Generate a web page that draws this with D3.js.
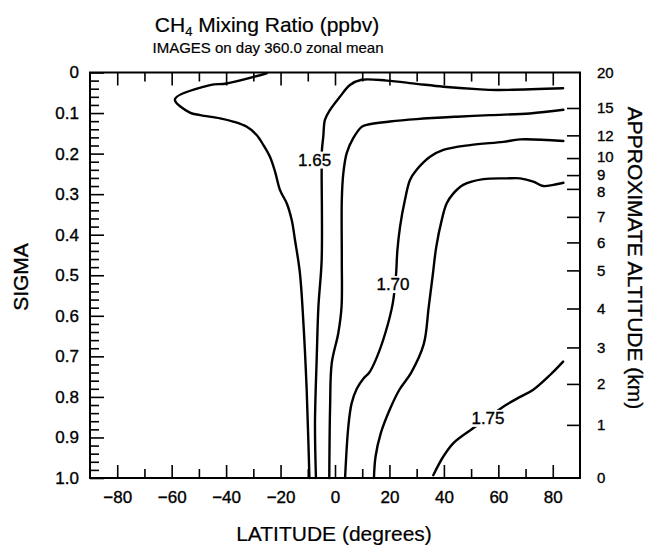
<!DOCTYPE html>
<html><head><meta charset="utf-8">
<script src="https://cdn.jsdelivr.net/npm/d3@7"></script>
<style>body{margin:0;background:#fff}svg{display:block}</style>
</head><body>
<svg id="chart" width="651" height="547"></svg>
<script>
// ---- tick labels ----
const latMajorTicks = [-80, -60, -40, -20, 0, 20, 40, 60, 80];
const latMinorTicks = [-70, -50, -30, -10, 10, 30, 50, 70];
const sigmaMajorTicks = [0, 0.1, 0.2, 0.3, 0.4, 0.5, 0.6, 0.7, 0.8, 0.9, 1.0];
const sigmaTickLabels = ["0", "0.1", "0.2", "0.3", "0.4", "0.5", "0.6", "0.7", "0.8", "0.9", "1.0"];
const altLabels = ["20", "15", "12", "10", "9", "8", "7", "6", "5", "4", "3", "2", "1", "0"];
const altSigma  = [0, 0.0875, 0.155, 0.211, 0.253, 0.287, 0.356, 0.419, 0.488, 0.582, 0.678, 0.768, 0.869, 1.0];

// ---- contour levels (ppmv) ----
const levels = [1.625, 1.65, 1.675, 1.70, 1.725, 1.75];

// contour 1.625
const c1Lat = [-25.1, -39.8, -45.9, -58.8, -53.3, -49.6, -42.2, -37.4, -32.4, -28.8, -26.3, -23.9, -22.0, -20.2, -17.7, -15.9, -14.7, -12.9, -11.6, -10.4, -9.8, -9.4];
const c1Sig = [0.002, 0.027, 0.031, 0.066, 0.099, 0.105, 0.113, 0.121, 0.134, 0.154, 0.179, 0.208, 0.245, 0.290, 0.323, 0.364, 0.413, 0.494, 0.618, 0.783, 0.906, 1.0];
// contour 1.65
const c2Lat = [83.8, 59.4, 52.1, 39.8, 30.0, 19.0, 9.8, 5.5, 1.8, -1.8, -3.7, -4.3, -4.8, -4.9, -4.9, -6.1, -6.7, -7.35, -7.0];
const c2Sig = [0.039, 0.043, 0.041, 0.035, 0.028, 0.020, 0.018, 0.031, 0.060, 0.092, 0.117, 0.158, 0.191, 0.240, 0.462, 0.578, 0.701, 0.864, 1.0];
// contour 1.675
const c3Lat = [83.9, 71.6, 56.9, 44.7, 30.0, 20.2, 11.65, 9.8, 6.7, 4.3, 3.05, 2.5, 2.5, 2.4, 1.2, -1.2, -1.8, -2.1];
const c3Sig = [0.092, 0.101, 0.105, 0.109, 0.115, 0.121, 0.129, 0.134, 0.162, 0.199, 0.249, 0.314, 0.462, 0.578, 0.643, 0.717, 0.824, 1.0];
// contour 1.70
const c4Lat = [83.9, 68.0, 61.8, 49.6, 39.8, 34.9, 30.0, 27.55, 25.7, 23.9, 22.9, 22.4, 21.2, 18.6, 15.2, 12.6, 10.4, 8.0, 6.1, 4.9, 3.7];
const c4Sig = [0.169, 0.165, 0.171, 0.179, 0.191, 0.208, 0.240, 0.265, 0.314, 0.380, 0.440, 0.500, 0.570, 0.640, 0.705, 0.740, 0.755, 0.780, 0.816, 0.873, 1.0];
// contour 1.725
const c5Lat = [83.9, 80.2, 76.5, 72.85, 68.0, 63.1, 54.5, 47.1, 43.5, 41.0, 39.2, 37.2, 35.9, 34.4, 32.6, 28.0, 23.6, 20.2, 16.8, 14.9, 14.3];
const c5Sig = [0.272, 0.277, 0.280, 0.269, 0.261, 0.261, 0.263, 0.277, 0.298, 0.323, 0.364, 0.430, 0.500, 0.580, 0.670, 0.740, 0.783, 0.830, 0.890, 0.947, 1.0];
// contour 1.75
const c6Lat = [36.1, 39.8, 43.5, 50.2, 56.2, 61.8, 68.0, 72.7, 79.0, 83.8];
const c6Sig = [0.993, 0.947, 0.914, 0.880, 0.852, 0.824, 0.800, 0.783, 0.746, 0.713];

const contourLat = [c1Lat, c2Lat, c3Lat, c4Lat, c5Lat, c6Lat];
const contourSig = [c1Sig, c2Sig, c3Sig, c4Sig, c5Sig, c6Sig];

// contour labels
const labelText = ["1.65", "1.70", "1.75"];
const labelLat  = [-7.5, 21.3, 56.2];
const labelSig  = [0.216, 0.523, 0.853];

// ---- layout ----
const FONT = "'Liberation Sans', Arial, Helvetica, sans-serif";
const L = 90, R = 580, T = 72.5, B = 478;
const svg = d3.select("#chart").style("font-family", FONT);

const x = d3.scaleLinear().domain([-90, 90]).range([L, R]);
const y = d3.scaleLinear().domain([0, 1]).range([T, B]);

function heavy(sel) { return sel.attr("stroke", "#000").attr("stroke-width", 0.35).attr("fill", "#000"); }

// contours
const line = d3.line().x(d => x(d[0])).y(d => y(d[1])).curve(d3.curveCatmullRom.alpha(0.5));
const g = svg.append("g");
contourLat.forEach((lats, i) => {
  const pts = lats.map((v, j) => [v, contourSig[i][j]]);
  g.append("path").attr("d", line(pts))
    .attr("fill", "none").attr("stroke", "#000").attr("stroke-width", 2.4)
    .attr("stroke-linejoin", "round").attr("stroke-linecap", "round");
});

// contour labels with white knock-out
labelText.forEach((t, i) => {
  const cx = x(labelLat[i]), cy = y(labelSig[i]);
  const txt = svg.append("text").attr("x", cx).attr("y", cy)
    .attr("text-anchor", "middle").attr("dominant-baseline", "central")
    .attr("font-size", 17).text(t);
  heavy(txt);
  const bb = txt.node().getBBox();
  svg.insert("rect", "text").attr("x", bb.x - 1).attr("y", bb.y + 1)
    .attr("width", bb.width + 2).attr("height", bb.height - 2).attr("fill", "#fff");
});

// frame
svg.append("rect").attr("x", L).attr("y", T).attr("width", R - L).attr("height", B - T)
  .attr("fill", "none").attr("stroke", "#000").attr("stroke-width", 2);

// bottom and top axes ticks
const axB = d3.axisBottom(x).tickValues(latMajorTicks).tickSize(-13).tickPadding(13).tickFormat(d3.format("d"));
const gB = svg.append("g").attr("transform", `translate(0,${B})`).call(axB);
gB.select(".domain").remove();
gB.selectAll(".tick line").attr("stroke-width", 1.6);
heavy(gB.selectAll(".tick text").attr("font-size", 17).attr("font-family", FONT));
const axBm = d3.axisBottom(x).tickValues(latMinorTicks).tickSize(-9).tickFormat("");
const gBm = svg.append("g").attr("transform", `translate(0,${B})`).call(axBm);
gBm.select(".domain").remove();
gBm.selectAll(".tick line").attr("stroke-width", 1.6);

const axT = d3.axisTop(x).tickValues(latMajorTicks).tickSize(-13).tickFormat("");
const gT = svg.append("g").attr("transform", `translate(0,${T})`).call(axT);
gT.select(".domain").remove();
gT.selectAll(".tick line").attr("stroke-width", 1.6);
const axTm = d3.axisTop(x).tickValues(latMinorTicks).tickSize(-9).tickFormat("");
const gTm = svg.append("g").attr("transform", `translate(0,${T})`).call(axTm);
gTm.select(".domain").remove();
gTm.selectAll(".tick line").attr("stroke-width", 1.6);

// left sigma axis
const axL = d3.axisLeft(y).tickValues(sigmaMajorTicks).tickSize(-14).tickPadding(11)
  .tickFormat((d, i) => sigmaTickLabels[i]);
const gL = svg.append("g").attr("transform", `translate(${L},0)`).call(axL);
gL.select(".domain").remove();
gL.selectAll(".tick line").attr("stroke-width", 1.6);
heavy(gL.selectAll(".tick text").attr("font-size", 17).attr("font-family", FONT));
const sigmaMinor = d3.range(1, 50).map(i => i * 0.02).filter(v => Math.abs(v * 10 - Math.round(v * 10)) > 1e-6);
const axLm = d3.axisLeft(y).tickValues(sigmaMinor).tickSize(-9).tickFormat("");
const gLm = svg.append("g").attr("transform", `translate(${L},0)`).call(axLm);
gLm.select(".domain").remove();
gLm.selectAll(".tick line").attr("stroke-width", 1.6);

// right altitude axis
const axR = d3.axisRight(y).tickValues(altSigma).tickSize(-13).tickPadding(17)
  .tickFormat((d, i) => altLabels[i]);
const gR = svg.append("g").attr("transform", `translate(${R},0)`).call(axR);
gR.select(".domain").remove();
gR.selectAll(".tick line").attr("stroke-width", 1.6)
  .attr("opacity", (d, i) => (i === 0 || i === altSigma.length - 1) ? 0 : 1);
heavy(gR.selectAll(".tick text").attr("font-size", 15).attr("font-family", FONT))
  .attr("dy", (d, i) => altLabels[i] === "10" ? "0.2em" : altLabels[i] === "8" ? "0.5em" : "0.32em");

// titles
const title = svg.append("text").attr("x", 267).attr("y", 32).attr("text-anchor", "middle")
  .attr("font-size", 21);
title.append("tspan").text("CH");
title.append("tspan").attr("font-size", 13).attr("dy", 4).text("4");
title.append("tspan").attr("dy", -4).text(" Mixing Ratio (ppbv)");
heavy(title).attr("stroke-width", 0.2);

heavy(svg.append("text").attr("x", 268).attr("y", 53).attr("text-anchor", "middle")
  .attr("font-size", 15).text("IMAGES on day 360.0 zonal mean")).attr("stroke-width", 0.2);

heavy(svg.append("text").attr("transform", "translate(28,277) rotate(-90)")
  .attr("text-anchor", "middle").attr("font-size", 21).text("SIGMA"));

heavy(svg.append("text").attr("transform", "translate(628,258) rotate(90)")
  .attr("text-anchor", "middle").attr("font-size", 21).text("APPROXIMATE ALTITUDE (km)"));

heavy(svg.append("text").attr("x", 334).attr("y", 541).attr("text-anchor", "middle")
  .attr("font-size", 21).text("LATITUDE (degrees)")).attr("stroke-width", 0.2);
</script>
</body></html>
